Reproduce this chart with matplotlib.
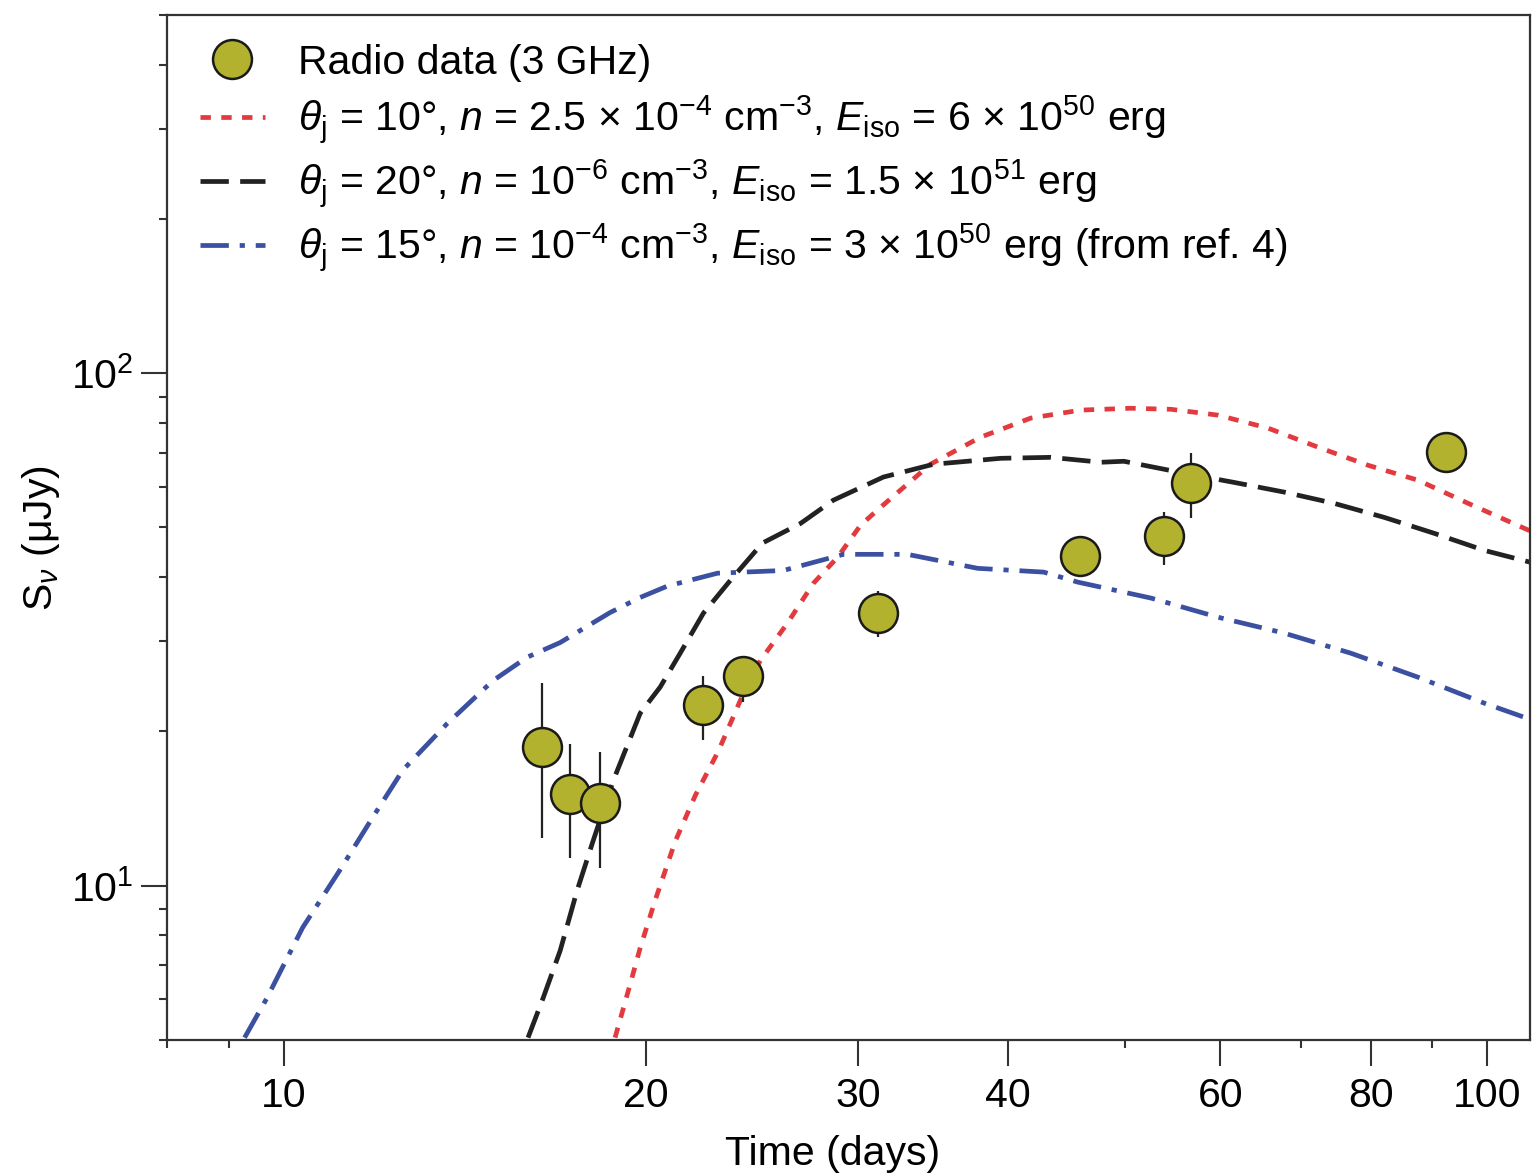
import numpy as np
import matplotlib
matplotlib.use("Agg")
from matplotlib import pyplot as plt
from matplotlib.ticker import FixedLocator, NullFormatter

# fonts (Helvetica-like, also inside math text)
plt.rcParams['font.family'] = ['Liberation Sans', 'DejaVu Sans']
plt.rcParams['mathtext.fontset'] = 'custom'
plt.rcParams['mathtext.rm'] = 'Liberation Sans'
plt.rcParams['mathtext.it'] = 'Liberation Sans:italic'
plt.rcParams['mathtext.bf'] = 'Liberation Sans:bold'

FS = 29.5

# radio data (3 GHz)
t_obs = [16.4, 17.3, 18.3, 22.3, 24.1, 31.2, 45.9, 53.9, 56.7, 92.4]
s_obs = [18.6, 15.1, 14.5, 22.5, 25.6, 34.0, 43.9, 48.0, 61.0, 70.1]
err_lo = [6.2, 3.8, 3.7, 3.3, 2.8, 3.5, 2.5, 5.7, 8.9, 4.0]
err_hi = [6.2, 3.8, 3.7, 3.1, 2.5, 3.5, 2.5, 5.6, 8.8, 4.0]

# model theta_j = 10 deg
t_red = [18.85, 19.41, 19.78, 20.35, 21.15, 21.98, 22.97, 23.96, 24.89, 26.21,
         27.55, 28.85, 30.15, 31.32, 34.46, 37.93, 41.75, 45.94, 50.55, 54.6,
         59.73, 65.74, 72.33, 79.6, 87.6, 96.4, 109.2]
s_red = [5.05, 6.44, 7.56, 9.35, 12.2, 15.0, 18.3, 23.0, 27.5, 32.5,
         38.9, 43.7, 50.5, 54.7, 66.4, 75.0, 81.7, 84.7, 85.4, 85.0,
         82.8, 78.1, 71.7, 66.1, 61.8, 55.7, 48.9]

# model theta_j = 20 deg
t_blk = [15.96, 16.43, 16.97, 17.53, 18.07, 18.78, 19.78, 20.55, 21.35, 22.32,
         23.5, 24.99, 26.88, 28.62, 31.5, 34.66, 39.42, 43.38, 47.74, 49.89,
         55.96, 61.6, 67.78, 74.6, 82.1, 90.3, 99.4, 109.2]
s_blk = [5.05, 6.04, 7.46, 9.78, 12.2, 16.0, 21.7, 24.4, 28.4, 34.0,
         39.4, 46.6, 50.9, 56.5, 62.7, 66.4, 68.2, 68.5, 67.0, 67.3,
         63.8, 61.2, 58.6, 55.7, 52.3, 48.7, 45.1, 42.6]

# model theta_j = 15 deg (ref. 4)
t_blu = [9.28, 9.68, 10.37, 11.13, 11.86, 12.56, 13.67, 14.92, 15.93, 16.97,
         18.67, 19.78, 20.83, 22.93, 26.01, 29.18, 32.98, 37.72, 42.8, 45.68,
         52.54, 59.73, 67.78, 77.06, 87.6, 99.4, 109.2]
s_blu = [5.05, 6.02, 8.28, 10.7, 13.6, 16.8, 20.7, 25.1, 27.9, 29.8,
         34.1, 36.5, 38.4, 40.7, 41.2, 44.3, 44.3, 41.6, 40.9, 39.1,
         36.4, 33.4, 31.1, 28.4, 25.5, 22.7, 21.0]

x_ticks = [10, 20, 30, 40, 60, 80, 100]
x_minor = [8, 9, 50, 70, 90]

fig = plt.figure(figsize=(15.32, 11.75), dpi=100)
ax = fig.add_axes([0.109, 0.115, 0.8897, 0.8723])

ax.plot(t_red, s_red, color='#e23a3f', lw=3.4, linestyle=(0, (2.2, 2.2)),
        label=r'$\theta_{\rm j}$ = 10°, $n$ = 2.5 × 10$^{-4}$ cm$^{-3}$, $E_{\rm iso}$ = 6 × 10$^{50}$ erg')
ax.plot(t_blk, s_blk, color='#222222', lw=3.4, linestyle=(0, (6.0, 2.4)),
        label=r'$\theta_{\rm j}$ = 20°, $n$ = 10$^{-6}$ cm$^{-3}$, $E_{\rm iso}$ = 1.5 × 10$^{51}$ erg')
ax.plot(t_blu, s_blu, color='#3b50a0', lw=3.4, linestyle=(0, (6.0, 2.3, 1.1, 2.3)),
        label=r'$\theta_{\rm j}$ = 15°, $n$ = 10$^{-4}$ cm$^{-3}$, $E_{\rm iso}$ = 3 × 10$^{50}$ erg (from ref. 4)')

# error bars then the data points on top
ax.errorbar(t_obs, s_obs, yerr=[err_lo, err_hi], fmt='none', ecolor='#222222',
            elinewidth=1.6, capsize=0, zorder=4)
ax.plot(t_obs, s_obs, 'o', ms=28, mfc='#b3b22f', mec='#1a1a1a', mew=1.8,
        zorder=5, label='Radio data (3 GHz)')

ax.set_xscale('log')
ax.set_yscale('log')
ax.set_xlim(8, 108.5)
ax.set_ylim(5, 500)

ax.xaxis.set_major_locator(FixedLocator(x_ticks))
ax.xaxis.set_minor_locator(FixedLocator(x_minor))
ax.set_xticklabels([str(v) for v in x_ticks])
ax.xaxis.set_minor_formatter(NullFormatter())

ax.tick_params(which='major', direction='out', length=19, width=1.5,
               labelsize=FS, color='#333333', pad=8)
ax.tick_params(which='minor', direction='out', length=6, width=1.5, color='#333333')
ax.tick_params(axis='y', which='both', right=False, pad=5)
ax.tick_params(axis='x', which='both', top=False)

for sp in ax.spines.values():
    sp.set_linewidth(1.6)
    sp.set_color('#333333')

ax.set_xlabel('Time (days)', fontsize=FS)
ax.set_ylabel(r'S$_{\nu}$ (μJy)', fontsize=FS)
ax.xaxis.set_label_coords(0.488, -0.093)
ax.yaxis.set_label_coords(-0.077, 0.49)

# legend order: data first, then models
h, l = ax.get_legend_handles_labels()
order = [3, 0, 1, 2]
ax.legend([h[i] for i in order], [l[i] for i in order], loc='upper left',
          bbox_to_anchor=(0.024, 0.972), frameon=False, fontsize=FS,
          handlelength=1.6, handletextpad=0.8, labelspacing=0.28,
          borderaxespad=0, borderpad=0)

plt.savefig('out.png', dpi=100)
